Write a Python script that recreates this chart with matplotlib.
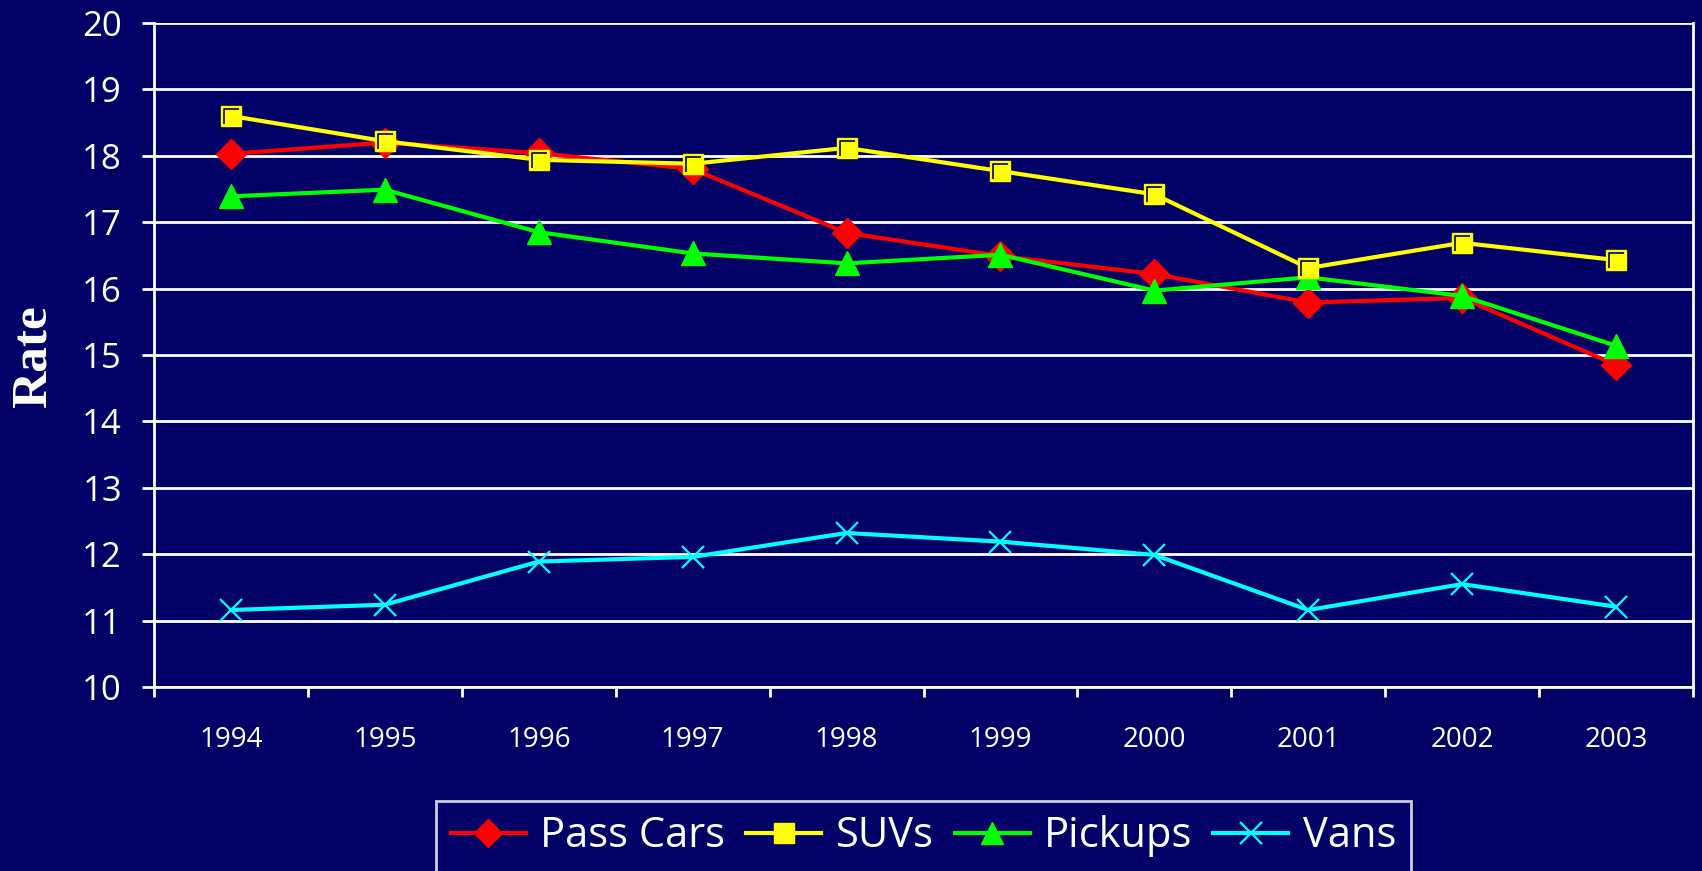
import matplotlib
matplotlib.use("Agg")
import matplotlib.pyplot as plt
from matplotlib.path import Path
import numpy as np

years = ["1994", "1995", "1996", "1997", "1998", "1999", "2000", "2001", "2002", "2003"]
pass_cars = [18.03, 18.20, 18.04, 17.80, 16.84, 16.49, 16.22, 15.79, 15.86, 14.85]
suvs = [18.60, 18.22, 17.94, 17.88, 18.12, 17.77, 17.42, 16.31, 16.69, 16.43]
pickups = [17.39, 17.49, 16.85, 16.53, 16.38, 16.51, 15.97, 16.17, 15.89, 15.14]
vans = [11.16, 11.24, 11.89, 11.96, 12.32, 12.19, 11.99, 11.16, 11.55, 11.21]

navy = "#000066"
plt.rcParams["font.family"] = ["Open Sans", "DejaVu Sans"]

fig = plt.figure(figsize=(17.02, 8.71), dpi=100, facecolor=navy)
ax = fig.add_axes([0.0905, 0.2112, 0.9042, 0.7624], facecolor=navy)

x = np.arange(len(years))

# gridlines
ax.set_ylim(10, 20)
ax.set_xlim(-0.5, len(years) - 0.5)
ax.set_yticks(np.arange(10, 21, 1))
ax.yaxis.grid(True, color="white", linewidth=2)
ax.set_axisbelow(True)

ax.plot(x, pass_cars, color="#ff0000", lw=3, marker="D", ms=15, mec="#ff0000", mfc="#ff0000", label="Pass Cars", zorder=3)
ax.plot(x, suvs, color="#ffff00", lw=3, marker="s", ms=15, mec="#ffff00", mfc="#ffff00", label="SUVs", zorder=4)
# inner bevel line on squares
bevel = Path([(-0.4, -0.5), (-0.4, 0.4), (0.5, 0.4)], [Path.MOVETO, Path.LINETO, Path.LINETO])
ax.plot(x, suvs, ls="none", marker=bevel, ms=12, mfc="none", mec=navy, mew=1.2, zorder=5)
ax.plot(x, pickups, color="#00ff00", lw=3, marker="^", ms=17, mec="#00ff00", mfc="#00ff00", label="Pickups", zorder=3)
ax.plot(x, vans, color="#00ffff", lw=3, marker="x", ms=16, mec="#00ffff", mew=1.6, label="Vans", zorder=3)

ax.spines["top"].set_visible(False)
for s in ["left", "bottom", "right"]:
    ax.spines[s].set_color("white")
    ax.spines[s].set_linewidth(2)

ax.tick_params(axis="y", colors="white", length=9, width=2, pad=14, labelsize=25)
ax.set_xticks(x)
ax.set_xticklabels(years)
ax.set_xticks(np.arange(-0.5, len(years), 1), minor=True)
ax.tick_params(axis="x", which="major", length=0, pad=28, labelsize=20, colors="white")
ax.tick_params(axis="x", which="minor", length=7, width=2, color="white")

fig.text(0.0195, 0.591, "Rate", rotation=90, color="white", fontsize=37,
         fontweight="bold", family="Liberation Serif", ha="center", va="center")

leg = ax.legend(loc="upper center", bbox_to_anchor=(0.5, -0.14), ncol=4, frameon=True,
                fontsize=30, facecolor=navy, edgecolor="white", labelcolor="white",
                handlelength=1.8, handletextpad=0.35, columnspacing=0.5, borderpad=0.35,
                fancybox=False, markerscale=0.95)
leg.get_frame().set_linewidth(2)

fig.savefig("out.png", dpi=100, facecolor=navy)
